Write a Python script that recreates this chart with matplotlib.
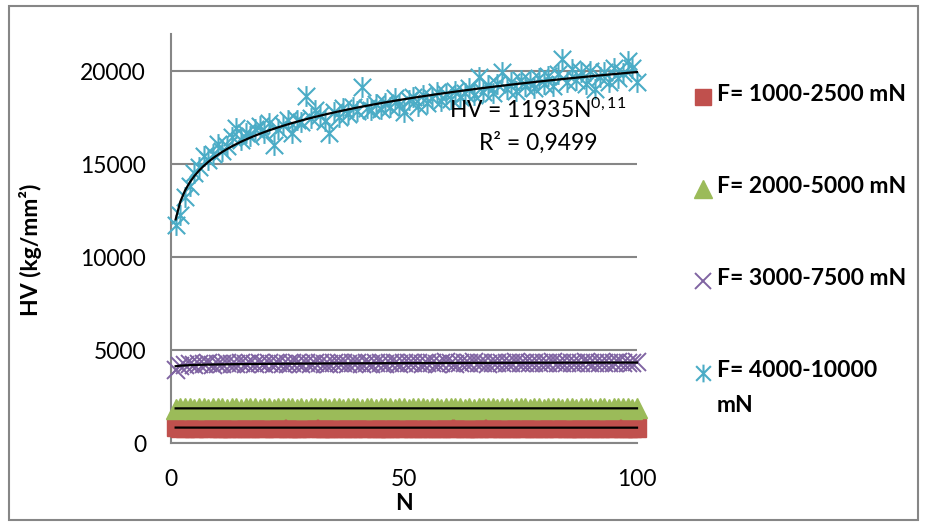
import numpy as np
import matplotlib.pyplot as plt
from matplotlib.path import Path
from matplotlib.lines import Line2D
from matplotlib.patches import Rectangle

plt.rcParams['font.family'] = 'Lato'
plt.rcParams['mathtext.fontset'] = 'custom'
plt.rcParams['mathtext.rm'] = 'Lato'
plt.rcParams['mathtext.default'] = 'rm'

W, H = 925, 523

# HV values, N = 1..100
red_hv = [
    850, 830, 815, 840, 825, 810, 835, 820, 845, 815,
    830, 805, 825, 840, 810, 830, 820, 845, 815, 825,
    835, 810, 820, 840, 830, 815, 825, 810, 835, 820,
    840, 815, 830, 825, 810, 845, 820, 830, 815, 835,
    825, 810, 840, 820, 830, 815, 825, 835, 810, 820,
    845, 830, 815, 825, 840, 810, 830, 820, 835, 815,
    825, 840, 810, 830, 820, 815, 835, 825, 810, 840,
    830, 820, 815, 835, 825, 810, 845, 820, 830, 815,
    840, 825, 810, 835, 820, 830, 815, 825, 840, 810,
    830, 820, 835, 815, 825, 840, 820, 830, 815, 825,
]
green_hv = [
    1850, 1870, 1860, 1880, 1855, 1865, 1875, 1850, 1870, 1860,
    1880, 1855, 1865, 1870, 1850, 1875, 1860, 1880, 1855, 1870,
    1865, 1850, 1875, 1860, 1870, 1880, 1855, 1865, 1850, 1875,
    1860, 1870, 1880, 1855, 1865, 1875, 1850, 1860, 1870, 1880,
    1855, 1865, 1875, 1850, 1870, 1860, 1880, 1855, 1865, 1870,
    1850, 1875, 1860, 1880, 1855, 1870, 1865, 1850, 1875, 1860,
    1870, 1880, 1855, 1865, 1850, 1875, 1860, 1870, 1880, 1855,
    1865, 1875, 1850, 1860, 1870, 1880, 1855, 1865, 1875, 1850,
    1870, 1860, 1880, 1855, 1865, 1870, 1850, 1875, 1860, 1880,
    1855, 1870, 1865, 1850, 1875, 1860, 1870, 1880, 1855, 1865,
]
purple_hv = [
    3920, 4120, 4180, 4230, 4210, 4260, 4240, 4280, 4220, 4270,
    4250, 4290, 4230, 4270, 4300, 4250, 4280, 4240, 4310, 4260,
    4290, 4250, 4300, 4270, 4240, 4310, 4280, 4260, 4300, 4250,
    4290, 4320, 4270, 4250, 4300, 4280, 4310, 4260, 4290, 4330,
    4270, 4300, 4250, 4310, 4290, 4270, 4320, 4280, 4260, 4310,
    4300, 4280, 4330, 4270, 4290, 4320, 4260, 4310, 4350, 4290,
    4270, 4320, 4300, 4280, 4340, 4290, 4310, 4270, 4330, 4300,
    4320, 4280, 4310, 4340, 4290, 4300, 4330, 4280, 4320, 4310,
    4290, 4340, 4300, 4320, 4280, 4330, 4310, 4290, 4340, 4300,
    4320, 4290, 4330, 4310, 4280, 4340, 4320, 4300, 4330, 4360,
]
cyan_hv = [
    11700, 12250, 13250, 13800, 14500, 14850, 15450, 15200, 15550, 16100,
    15700, 16000, 16450, 16950, 16300, 16700, 16500, 16900, 17050, 16650,
    17200, 16050, 16900, 17100, 17350, 16700, 17400, 17250, 18650, 17500,
    17900, 17650, 17300, 16650, 17800, 17550, 18000, 17700, 18100, 17850,
    19150, 18000, 17900, 18250, 17950, 18300, 18100, 18550, 18200, 17800,
    18450, 18600, 18150, 18700, 18300, 18550, 18900, 18400, 18750, 18500,
    18950, 18600, 18850, 19100, 18700, 19700, 18900, 19250, 18800, 19300,
    19950, 19050, 19400, 18950, 19550, 19200, 19450, 19100, 19650, 19300,
    19750, 19200, 19850, 20650, 19400, 20100, 19550, 19950, 19300, 20000,
    19050, 19700, 19950, 19400, 20150, 19650, 19900, 20550, 20150, 19400,
]

labels = ['F= 1000-2500 mN', 'F= 2000-5000 mN', 'F= 3000-7500 mN', 'F= 4000-10000\nmN']
colors = ['#C0504D', '#9BBB59', '#8064A2', '#4BACC6']

N = np.arange(1, len(cyan_hv) + 1)

# Excel style star marker: an X with a vertical bar
star = Path([(-1, -1), (1, 1), (-1, 1), (1, -1), (0, -1.2), (0, 1.2)],
            [Path.MOVETO, Path.LINETO] * 3)

styles = [
    dict(marker='s', markersize=13, mfc=colors[0], mec=colors[0]),
    dict(marker='^', markersize=14.5, mfc=colors[1], mec=colors[1]),
    dict(marker='x', markersize=13, mec=colors[2], mew=1.4),
    dict(marker=star, markersize=15, mfc='none', mec=colors[3], mew=1.5),
]


def px(x, y):
    return x / W, 1 - y / H


fig = plt.figure(figsize=(W / 100, H / 100), dpi=100)
ax = fig.add_axes([171 / W, 1 - 443 / H, (637 - 171) / W, (443 - 34) / H])

for vals, st in zip([red_hv, green_hv, purple_hv, cyan_hv], styles):
    ax.plot(N, vals, linestyle='none', clip_on=False, zorder=3, **st)

# power trendlines, fitted in log-log space like Excel
for vals in [red_hv, green_hv, purple_hv, cyan_hv]:
    b, a = np.polyfit(np.log(N), np.log(vals), 1)
    ax.plot(N, np.exp(a) * N ** b, color='black', lw=1.6, zorder=4, clip_on=False)

ax.set_xlim(0, 100)
ax.set_ylim(0, 22000)
ax.set_xticks([0, 50, 100])
ax.set_yticks([0, 5000, 10000, 15000, 20000])
ax.yaxis.grid(True, color='#868686', lw=1.5)
ax.set_axisbelow(True)
for s in ['top', 'right']:
    ax.spines[s].set_visible(False)
for s in ['left', 'bottom']:
    ax.spines[s].set_color('#868686')
    ax.spines[s].set_linewidth(1.5)
ax.tick_params(axis='both', length=0, labelsize=16.5)
ax.tick_params(axis='y', pad=18)
ax.tick_params(axis='x', pad=19)

ax.text(*px(538, 110), 'HV = 11935N$^{0,11}$', transform=fig.transFigure,
        ha='center', va='center', fontsize=16.5, zorder=5)
ax.text(*px(538, 143), 'R² = 0,9499', transform=fig.transFigure,
        ha='center', va='center', fontsize=16.5, zorder=5)

fig.text(*px(30, 250), 'HV (kg/mm²)', rotation=90, ha='center', va='center',
         fontsize=16.5, fontweight='bold')
fig.text(*px(404, 503), 'N', ha='center', va='center', fontsize=16.5, fontweight='bold')

# legend drawn by hand so the wrapped last label keeps its marker on the first line
leg_y = [97, 189, 281, 373]
for y, lab, st in zip(leg_y, labels, styles):
    fig.add_artist(Line2D([703 / W], [1 - y / H], transform=fig.transFigure,
                          linestyle='none', **{**st, 'markersize': st['markersize'] * 0.85}))
    fig.text(717 / W, 1 - (y - 13) / H, lab, ha='left', va='top', fontsize=16.5,
             fontweight='bold', linespacing=1.85)

fig.add_artist(Rectangle(px(9, 520), (918 - 9) / W, (520 - 6) / H, transform=fig.transFigure,
                         fill=False, ec='#868686', lw=1.5))

fig.savefig('out.png', dpi=100)
